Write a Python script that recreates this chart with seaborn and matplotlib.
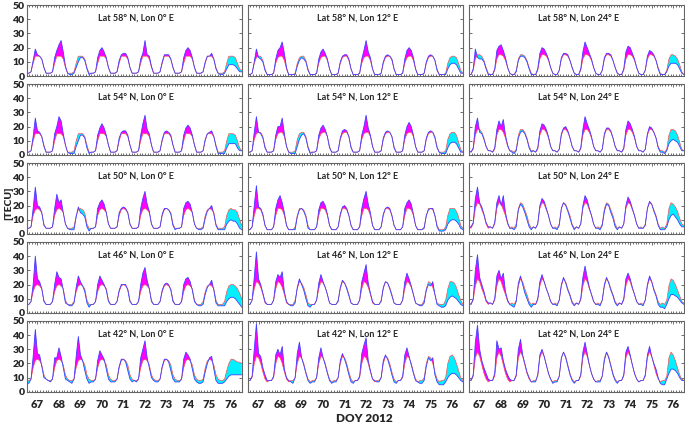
import numpy as np
import matplotlib
matplotlib.use("Agg")
import matplotlib.pyplot as plt
from matplotlib.ticker import MultipleLocator
import seaborn as sns

# time axis: DOY 67.0 .. 77.0, sampled every 0.1 day
doy = np.linspace(67, 77, 101)
day_labels = ["67", "68", "69", "70", "71", "72", "73", "74", "75", "76"]
tecu_ticks = [0, 10, 20, 30, 40, 50]
lats = [58, 54, 50, 46, 42]
lons = [0, 12, 24]

obs_58_0 = [2,2,3,11,19,15,14,12,6,2, 2,2,3,13,18,22,25,17,7,2, 1,1,2,6,10,13,13,11,5,1, 2,2,3,13,18,20,17,13,6,2,
            2,2,3,11,15,16,16,13,6,2, 2,2,3,12,16,25,15,14,7,2, 2,2,3,10,15,15,15,12,6,2, 2,2,3,13,18,20,18,13,6,2,
            2,2,3,10,14,14,16,12,5,2, 1,1,2,5,8,8,8,7,5,3, 3]
mod_58_0 = [2,2,3,9,14,14,14,12,6,2, 2,2,3,9,14,14,14,12,6,2, 2,2,3,9,14,14,14,12,6,2, 2,2,3,9,14,14,14,12,6,2,
            2,2,3,9,14,14,14,12,6,2, 2,2,3,9,14,14,14,12,6,2, 2,2,3,9,14,14,14,12,6,2, 2,2,3,9,14,14,14,12,6,2,
            2,2,3,9,14,14,14,12,6,2, 2,2,3,9,14,14,14,13,9,5, 4]
obs_58_12 = [1,1,2,10,19,13,12,10,4,1, 1,1,2,12,18,20,24,16,6,1, 1,1,1,7,11,13,12,10,4,1, 1,1,2,12,17,19,16,12,5,1,
             1,1,2,10,14,15,15,12,5,1, 1,1,2,12,18,25,17,13,5,1, 1,1,2,10,14,15,14,12,5,1, 1,1,2,12,18,20,18,13,5,1,
             1,1,2,10,14,15,14,11,4,1, 1,1,1,5,8,9,9,8,5,2, 2]
mod_58_12 = [1,1,2,9,13,14,14,11,5,1, 1,1,2,9,13,14,14,11,5,1, 1,1,2,9,13,14,14,11,5,1, 1,1,2,9,13,14,14,11,5,1,
             1,1,2,9,13,14,14,11,5,1, 1,1,2,9,13,14,14,11,5,1, 1,1,2,9,13,14,14,11,5,1, 1,1,2,9,13,14,14,11,5,1,
             1,1,2,9,13,14,14,11,5,1, 1,1,2,9,13,14,14,13,9,4, 2]
obs_58_24 = [1,1,5,19,13,12,12,10,5,1, 1,1,5,18,21,22,18,13,6,2, 1,1,3,11,14,14,13,10,5,1, 1,1,5,16,20,19,16,12,6,2,
             1,1,4,13,16,16,15,11,6,2, 1,1,5,17,24,20,16,12,6,2, 1,1,4,13,16,16,15,11,6,2, 1,1,5,17,21,20,16,12,6,2,
             1,1,4,14,18,17,15,11,5,1, 1,1,3,7,9,9,9,8,5,2, 1]
mod_58_24 = [1,1,4,12,15,15,14,11,6,2, 1,1,4,12,15,15,14,11,6,2, 1,1,4,12,15,15,14,11,6,2, 1,1,4,12,15,15,14,11,6,2,
             1,1,4,12,15,15,14,11,6,2, 1,1,4,12,15,15,14,11,6,2, 1,1,4,12,15,15,14,11,6,2, 1,1,4,12,15,15,14,11,6,2,
             1,1,4,12,15,15,14,11,6,2, 1,1,4,12,15,15,14,12,8,3, 1]

obs_54_0 = [2,2,3,13,26,17,16,13,6,2, 2,2,3,15,20,27,24,15,7,2, 1,1,1,6,10,14,14,12,5,1, 2,2,3,14,19,22,19,14,7,2,
            2,2,3,12,16,17,17,14,7,2, 2,2,3,14,22,28,18,15,7,2, 2,2,3,11,16,17,16,14,7,2, 2,2,3,14,19,21,19,14,7,2,
            2,2,3,11,15,16,17,13,6,1, 1,1,1,5,8,8,8,8,5,3, 3]
mod_54_0 = [2,2,3,10,15,15,15,13,7,2, 2,2,3,10,15,15,15,13,7,2, 2,2,3,10,15,15,15,13,7,2, 2,2,3,10,15,15,15,13,7,2,
            2,2,3,10,15,15,15,13,7,2, 2,2,3,10,15,15,15,13,7,2, 2,2,3,10,15,15,15,13,7,2, 2,2,3,10,15,15,15,13,7,2,
            2,2,3,10,15,15,15,13,7,2, 2,2,3,10,15,15,15,14,10,5, 3]
obs_54_12 = [2,2,3,16,27,16,15,12,5,2, 2,2,3,14,20,20,26,15,6,2, 1,1,1,6,11,14,15,12,5,1, 2,2,3,14,19,21,18,13,5,2,
             2,2,3,12,17,18,17,13,5,2, 2,2,3,14,20,28,19,14,6,2, 2,2,3,12,16,17,16,13,5,2, 2,2,3,14,20,23,20,14,6,2,
             2,2,3,12,16,17,16,12,5,2, 1,1,1,5,8,9,9,8,5,2, 2]
mod_54_12 = [2,2,3,11,15,16,16,13,6,2, 2,2,3,11,15,16,16,13,6,2, 2,2,3,11,15,16,16,13,6,2, 2,2,3,11,15,16,16,13,6,2,
             2,2,3,11,15,16,16,13,6,2, 2,2,3,11,15,16,16,13,6,2, 2,2,3,11,15,16,16,13,6,2, 2,2,3,11,15,16,16,13,6,2,
             2,2,3,11,15,16,16,13,6,2, 2,2,3,11,15,16,16,14,9,4, 2]
obs_54_24 = [3,2,5,20,26,16,15,11,6,3, 3,2,5,18,24,20,25,14,7,3, 2,1,3,12,16,17,15,11,5,2, 3,2,5,17,22,21,18,13,6,3,
             3,2,4,15,19,20,17,12,6,3, 3,2,5,18,27,22,18,13,6,3, 3,2,4,15,19,19,17,12,6,3, 3,2,5,18,24,22,18,13,6,3,
             3,2,4,15,20,19,16,12,5,2, 2,1,3,8,10,11,10,9,6,3, 3]
mod_54_24 = [3,2,4,14,18,18,16,12,6,3, 3,2,4,14,18,18,16,12,6,3, 3,2,4,14,18,18,16,12,6,3, 3,2,4,14,18,18,16,12,6,3,
             3,2,4,14,18,18,16,12,6,3, 3,2,4,14,18,18,16,12,6,3, 3,2,4,14,18,18,16,12,6,3, 3,2,4,14,18,18,16,12,6,3,
             3,2,4,14,18,18,16,12,6,3, 3,2,4,14,18,18,17,14,9,4, 3]

obs_50_0 = [4,4,5,18,33,20,19,15,6,4, 4,4,5,18,28,22,24,15,7,4, 3,3,3,12,19,15,14,12,5,2, 4,4,5,18,22,24,21,15,7,4,
            4,4,5,15,18,19,18,15,7,4, 4,4,5,18,25,30,21,16,7,4, 4,4,5,14,18,18,17,14,6,3, 4,4,5,18,22,23,21,15,7,4,
            3,3,4,11,16,18,20,14,6,3, 3,3,3,7,9,10,9,9,7,4, 3]
mod_50_0 = [4,4,5,13,17,18,17,15,7,4, 4,4,5,13,17,18,17,15,7,4, 4,4,5,13,17,18,17,15,7,4, 4,4,5,13,17,18,17,15,7,4,
            4,4,5,13,17,18,17,15,7,4, 4,4,5,13,17,18,17,15,7,4, 4,4,5,13,17,18,17,15,7,4, 4,4,5,13,17,18,17,15,7,4,
            4,4,5,13,17,18,17,15,7,4, 4,4,5,13,17,18,17,17,15,10, 6]
obs_50_12 = [3,3,5,20,34,19,18,14,6,3, 3,3,5,18,24,27,22,15,6,3, 3,3,3,12,17,18,16,12,4,3, 3,3,5,17,22,23,20,14,6,3,
             3,3,5,14,19,20,18,13,6,3, 3,3,5,18,25,30,21,15,6,3, 3,3,5,14,18,19,18,13,6,3, 3,3,5,18,22,24,21,14,6,3,
             3,3,4,13,17,18,18,13,5,2, 2,2,3,7,9,10,10,9,7,4, 3]
mod_50_12 = [3,3,5,13,18,18,17,13,6,3, 3,3,5,13,18,18,17,13,6,3, 3,3,5,13,18,18,17,13,6,3, 3,3,5,13,18,18,17,13,6,3,
             3,3,5,13,18,18,17,13,6,3, 3,3,5,13,18,18,17,13,6,3, 3,3,5,13,18,18,17,13,6,3, 3,3,5,13,18,18,17,13,6,3,
             3,3,5,13,18,18,17,13,6,3, 3,3,5,13,18,18,18,16,12,6, 4]
obs_50_24 = [5,5,8,25,33,22,19,14,8,5, 5,4,8,22,27,20,27,15,8,4, 4,3,5,17,21,19,15,10,5,3, 5,4,7,20,25,23,18,13,7,4,
             4,3,6,18,22,20,16,11,6,3, 5,4,7,20,27,24,18,13,7,4, 4,3,6,16,21,20,15,11,5,3, 5,4,7,20,26,23,18,13,7,4,
             4,4,6,18,23,21,16,12,6,3, 3,3,5,10,13,14,12,10,7,5, 5]
mod_50_24 = [5,4,7,18,22,21,17,13,7,4, 5,4,7,18,22,21,17,13,7,4, 5,4,7,18,22,21,17,13,7,4, 5,4,7,18,22,21,17,13,7,4,
             5,4,7,18,22,21,17,13,7,4, 5,4,7,18,22,21,17,13,7,4, 5,4,7,18,22,21,17,13,7,4, 5,4,7,18,22,21,17,13,7,4,
             5,4,7,18,22,21,17,13,7,4, 5,4,7,18,22,21,19,16,11,7, 6]

obs_46_0 = [6,6,8,20,40,24,22,17,8,6, 6,6,8,20,29,25,24,16,7,6, 5,5,7,18,26,22,19,15,7,4, 6,6,8,20,26,23,20,16,8,6,
            6,6,8,16,20,20,20,16,8,6, 6,6,8,20,28,32,23,17,8,6, 6,6,8,16,20,21,20,16,8,6, 6,6,8,20,24,25,22,16,8,6,
            5,5,6,13,18,20,23,16,7,5, 5,5,5,8,10,11,11,10,8,6, 4]
mod_46_0 = [6,6,8,15,19,20,19,17,9,6, 6,6,8,15,19,20,19,17,9,6, 6,6,8,15,19,20,19,17,9,6, 6,6,8,15,19,20,19,17,9,6,
            6,6,8,15,19,20,19,17,9,6, 6,6,8,15,19,20,19,17,9,6, 6,6,8,15,19,20,19,17,9,6, 6,6,8,15,19,20,19,17,9,6,
            6,6,8,15,19,20,19,17,9,6, 6,6,8,15,19,20,20,19,17,14, 10]
obs_46_12 = [6,6,9,25,43,24,20,14,8,6, 6,6,9,22,27,25,29,15,8,6, 5,5,7,18,24,20,16,10,5,4, 6,6,9,21,27,22,18,13,7,6,
             6,6,8,18,23,21,17,12,7,6, 6,6,9,22,28,34,21,14,8,6, 6,6,8,18,22,21,17,12,7,6, 6,6,9,22,28,24,19,13,7,6,
             5,5,7,16,20,19,22,13,6,5, 4,4,5,9,11,12,11,10,8,6, 5]
mod_46_12 = [6,6,9,17,22,21,18,13,7,6, 6,6,9,17,22,21,18,13,7,6, 6,6,9,17,22,21,18,13,7,6, 6,6,9,17,22,21,18,13,7,6,
             6,6,9,17,22,21,18,13,7,6, 6,6,9,17,22,21,18,13,7,6, 6,6,9,17,22,21,18,13,7,6, 6,6,9,17,22,21,18,13,7,6,
             6,6,9,17,22,21,18,13,7,6, 6,6,9,17,22,22,21,18,13,9, 6]
obs_46_24 = [7,6,10,30,41,25,20,15,9,7, 7,6,10,26,30,24,28,15,9,6, 5,4,8,21,26,20,14,10,6,4, 6,6,10,22,27,22,17,13,8,6,
             6,5,9,20,25,21,16,12,7,5, 7,6,10,25,33,25,18,13,8,6, 6,5,9,20,25,21,16,12,7,5, 7,6,10,24,28,24,18,13,8,6,
             6,5,9,20,26,22,16,12,6,4, 4,3,6,10,13,13,12,11,9,7, 6]
mod_46_24 = [7,6,9,19,24,22,17,13,8,6, 7,6,9,19,24,22,17,13,8,6, 7,6,9,19,24,22,17,13,8,6, 7,6,9,19,24,22,17,13,8,6,
             7,6,9,19,24,22,17,13,8,6, 7,6,9,19,24,22,17,13,8,6, 7,6,9,19,24,22,17,13,8,6, 7,6,9,19,24,22,17,13,8,6,
             7,6,9,19,24,22,17,13,8,6, 7,6,9,19,24,23,20,16,12,8, 7]

obs_42_0 = [6,6,9,25,44,27,26,18,10,9, 8,7,9,24,24,31,25,17,9,8, 7,6,9,25,39,26,22,15,9,6, 7,7,9,22,29,26,23,16,9,7,
            7,7,9,18,23,23,21,15,9,7, 8,7,9,24,30,36,24,17,10,8, 7,7,9,18,23,23,21,15,9,7, 7,7,9,23,28,26,23,16,9,7,
            6,6,7,14,20,24,25,16,8,6, 6,6,7,9,11,12,12,12,12,12, 12]
mod_42_0 = [8,8,9,17,22,23,22,19,12,9, 8,8,9,17,22,23,22,19,12,9, 8,8,9,17,22,23,22,19,12,9, 8,8,9,17,22,23,22,19,12,9,
            8,8,9,17,22,23,22,19,12,9, 8,8,9,17,22,23,22,19,12,9, 8,8,9,17,22,23,22,19,12,9, 8,8,9,17,22,23,22,19,12,9,
            8,8,9,17,22,23,22,19,12,9, 8,8,9,15,20,23,23,22,21,21, 20]
obs_42_12 = [8,8,11,30,48,27,25,17,12,8, 8,8,11,26,30,26,32,16,10,8, 7,6,10,27,35,24,19,13,8,6, 7,7,10,24,31,24,19,13,8,6,
             7,7,10,22,27,23,18,12,7,6, 8,8,11,27,33,38,22,15,9,8, 7,7,10,22,26,23,18,12,7,6, 8,8,11,26,31,25,19,13,8,7,
             6,6,8,18,24,22,24,12,7,5, 5,5,7,10,12,13,13,12,10,8, 7]
mod_42_12 = [8,8,10,20,25,24,20,14,9,7, 8,8,10,20,25,24,20,14,9,7, 8,8,10,20,25,24,20,14,9,7, 8,8,10,20,25,24,20,14,9,7,
             8,8,10,20,25,24,20,14,9,7, 8,8,10,20,25,24,20,14,9,7, 8,8,10,20,25,24,20,14,9,7, 8,8,10,20,25,24,20,14,9,7,
             8,8,10,20,25,24,20,14,9,7, 8,8,10,20,25,26,24,20,15,10, 8]
obs_42_24 = [9,8,12,35,47,30,22,17,13,9, 8,8,13,36,30,31,22,16,12,9, 8,8,12,30,37,26,20,14,10,7, 7,7,12,26,30,25,19,13,9,6,
             7,7,11,24,28,24,18,12,8,6, 8,8,12,28,35,27,19,13,9,7, 7,7,11,22,28,24,18,12,8,6, 8,8,12,28,32,26,19,13,9,7,
             8,8,12,26,32,25,20,16,10,6, 5,5,9,13,16,16,15,13,10,8, 8]
mod_42_24 = [8,8,11,24,28,25,19,13,9,7, 8,8,11,24,28,25,19,13,9,7, 8,8,11,24,28,25,19,13,9,7, 8,8,11,24,28,25,19,13,9,7,
             8,8,11,24,28,25,19,13,9,7, 8,8,11,24,28,25,19,13,9,7, 8,8,11,24,28,25,19,13,9,7, 8,8,11,24,28,25,19,13,9,7,
             8,8,11,24,28,25,19,13,9,7, 8,8,11,24,28,26,22,17,12,9, 8]

panels = {
    (58, 0): (obs_58_0, mod_58_0), (58, 12): (obs_58_12, mod_58_12), (58, 24): (obs_58_24, mod_58_24),
    (54, 0): (obs_54_0, mod_54_0), (54, 12): (obs_54_12, mod_54_12), (54, 24): (obs_54_24, mod_54_24),
    (50, 0): (obs_50_0, mod_50_0), (50, 12): (obs_50_12, mod_50_12), (50, 24): (obs_50_24, mod_50_24),
    (46, 0): (obs_46_0, mod_46_0), (46, 12): (obs_46_12, mod_46_12), (46, 24): (obs_46_24, mod_46_24),
    (42, 0): (obs_42_0, mod_42_0), (42, 12): (obs_42_12, mod_42_12), (42, 24): (obs_42_24, mod_42_24),
}

sns.set_theme(style="ticks")
plt.rcParams["font.family"] = ["Lato", "DejaVu Sans"]

fig, axes = plt.subplots(5, 3, figsize=(6.85, 4.25), dpi=100)
fig.subplots_adjust(left=0.039, right=0.9985, top=0.988, bottom=0.078, wspace=0.028, hspace=0.113)

for i, lat in enumerate(lats):
    for j, lon in enumerate(lons):
        ax = axes[i, j]
        obs = np.array(panels[(lat, lon)][0], dtype=float)
        mod = np.array(panels[(lat, lon)][1], dtype=float)
        ax.fill_between(doy, obs, mod, where=obs >= mod, interpolate=True, color="#ff00ff", lw=0)
        ax.fill_between(doy, obs, mod, where=obs < mod, interpolate=True, color="#00f0ff", lw=0)
        sns.lineplot(x=doy, y=mod, ax=ax, color="#ff5050", linewidth=0.5)
        sns.lineplot(x=doy, y=obs, ax=ax, color="#4040ff", linewidth=0.6)

        ax.set_xlim(67, 77)
        ax.set_ylim(0, 50)
        ax.set_yticks(tecu_ticks)
        ax.set_xticks(np.arange(67.5, 77, 1))
        ax.xaxis.set_minor_locator(MultipleLocator(0.125))
        ax.tick_params(axis="both", which="both", direction="in", top=True, right=True,
                       color="#555555", width=0.6, pad=1.5)
        ax.tick_params(axis="y", which="major", length=2.5)
        ax.tick_params(axis="x", which="major", length=1.8)
        ax.tick_params(axis="x", which="minor", length=1.2)
        for sp in ax.spines.values():
            sp.set_color("#666666")
            sp.set_linewidth(0.8)

        if j == 0:
            ax.set_yticklabels([str(v) for v in tecu_ticks], fontsize=7.5, fontweight="heavy")
        else:
            ax.tick_params(axis="y", labelleft=False)
        if i == len(lats) - 1:
            ax.set_xticklabels(day_labels, fontsize=8, fontweight="heavy")
            ax.tick_params(axis="x", which="major", pad=5)
        else:
            ax.tick_params(axis="x", labelbottom=False)
        ax.set_xlabel("")
        ax.set_ylabel("")
        ax.text(0.51, 0.82, f"Lat {lat}° N, Lon {lon}° E", transform=ax.transAxes,
                ha="center", va="center", fontsize=6.5, fontweight="bold")

fig.text(0.013, 0.522, "[TECU]", rotation=90, ha="center", va="center", fontsize=7.5, fontweight="heavy")
fig.text(0.532, 0.016, "DOY 2012", ha="center", va="center", fontsize=8.5, fontweight="heavy")

fig.savefig("out.png", dpi=100)
